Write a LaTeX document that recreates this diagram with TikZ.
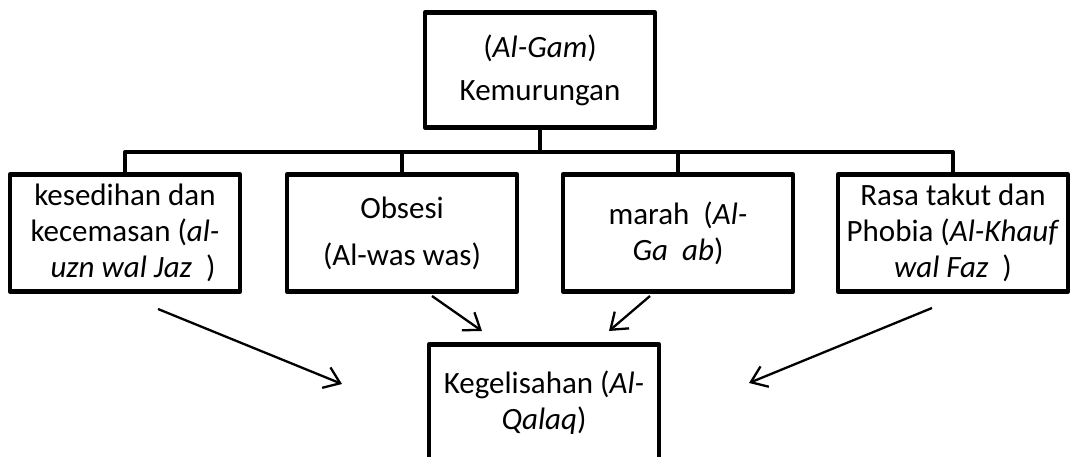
\documentclass[tikz,border=0pt]{standalone}
\usepackage{fontspec}
\setmainfont{Carlito}
\usetikzlibrary{arrows.meta}

\begin{document}
\begin{tikzpicture}[x=1pt,y=-1pt]
\tikzset{box/.style={draw,line width=4.5pt,line join=round,minimum width=230pt,minimum height=117pt,inner sep=0pt,align=center,font=\fontsize{31}{36}\selectfont},
  link/.style={line width=4pt,line join=round},
  flow/.style={line width=2.3pt,-{Straight Barb[length=15pt,width=22pt]}}}
\useasboundingbox (0,0) rectangle (1077,457);
% top
\node [box,minimum height=115pt] (gam) at (540,70) {(\textit{Al-Gam})\\[7pt] Kemurungan};
% four causes
\node [box] (sedih) at (125,233) {kesedihan dan\\ kecemasan (\textit{al-}\\ \hspace*{16pt}\textit{uzn wal Jaz} \ )};
\node [box] (obsesi) at (402,233) {Obsesi\\[11pt] (Al-was was)};
\node [box] (marah) at (678,233) {marah \ (\textit{Al-}\\ \textit{Ga \ ab})};
\node [box] (takut) at (953,233) {Rasa takut dan\\ Phobia (\textit{Al-Khauf}\\ \textit{wal Faz} \ )};
% result
\node [box] (qalaq) at (544,403) {Kegelisahan (\textit{Al-}\\ \textit{Qalaq})};
% tree
\coordinate (bus) at (540,152);
\draw [link] (gam.south) -- (gam.south |- bus);
\draw [link] (sedih.north) |- (takut.north |- bus) -- (takut.north);
\draw [link] (obsesi.north) -- (obsesi.north |- bus);
\draw [link] (marah.north) -- (marah.north |- bus);
% arrows
\coordinate (f1) at (158,309); \coordinate (t1) at (342,384);
\coordinate (f2) at (432,296); \coordinate (t2) at (482,331);
\coordinate (f3) at (650,296); \coordinate (t3) at (609,331);
\coordinate (f4) at (932,308); \coordinate (t4) at (749,383);
\draw [flow] (f1) -- (t1);
\draw [flow] (f2) -- (t2);
\draw [flow] (f3) -- (t3);
\draw [flow] (f4) -- (t4);
\end{tikzpicture}
\end{document}
